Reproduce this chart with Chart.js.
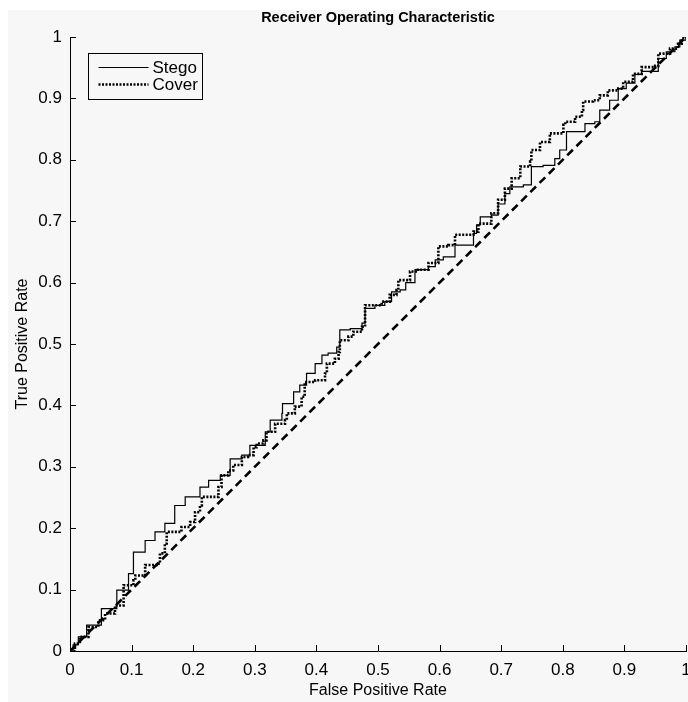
<!DOCTYPE html>
<html>
<head>
<meta charset="utf-8">
<title>Receiver Operating Characteristic</title>
<script src="https://cdn.jsdelivr.net/npm/chart.js@4.4.0/dist/chart.umd.min.js"></script>
<style>
  body { margin: 0; background: #ffffff; }
  canvas { display: block; }
</style>
</head>
<body>
<canvas id="rocChart" width="688" height="702"></canvas>
<script>
// ROC 곡선 데이터
const stegoFpr = [0, 0.005, 0.0135, 0.027, 0.051, 0.076, 0.095, 0.103, 0.122, 0.138, 0.154, 0.170, 0.187, 0.211, 0.225, 0.244, 0.260, 0.279, 0.292, 0.317, 0.325, 0.344, 0.345, 0.363, 0.373, 0.384, 0.398, 0.409, 0.419, 0.433, 0.438, 0.455, 0.474, 0.479, 0.495, 0.511, 0.522, 0.536, 0.545, 0.560, 0.582, 0.593, 0.606, 0.625, 0.655, 0.660, 0.666, 0.684, 0.695, 0.706, 0.714, 0.736, 0.749, 0.768, 0.787, 0.795, 0.806, 0.806, 0.836, 0.852, 0.860, 0.876, 0.890, 0.903, 0.917, 0.928, 0.955, 0.968, 0.982, 0.990, 1];
const stegoTpr = [0, 0.010, 0.023, 0.042, 0.069, 0.099, 0.126, 0.161, 0.180, 0.194, 0.208, 0.237, 0.251, 0.267, 0.278, 0.286, 0.313, 0.319, 0.335, 0.357, 0.376, 0.387, 0.403, 0.422, 0.433, 0.452, 0.468, 0.482, 0.485, 0.495, 0.523, 0.525, 0.534, 0.558, 0.563, 0.569, 0.585, 0.588, 0.600, 0.621, 0.626, 0.637, 0.642, 0.661, 0.680, 0.694, 0.707, 0.710, 0.728, 0.745, 0.756, 0.759, 0.789, 0.791, 0.802, 0.816, 0.821, 0.846, 0.859, 0.862, 0.881, 0.897, 0.916, 0.925, 0.939, 0.944, 0.965, 0.976, 0.984, 0.995, 1];

const coverFpr = [0, 0.008, 0.016, 0.030, 0.046, 0.057, 0.073, 0.087, 0.087, 0.103, 0.106, 0.122, 0.141, 0.146, 0.154, 0.157, 0.181, 0.195, 0.203, 0.211, 0.214, 0.230, 0.241, 0.246, 0.257, 0.265, 0.279, 0.289, 0.298, 0.303, 0.314, 0.319, 0.333, 0.349, 0.352, 0.365, 0.376, 0.381, 0.398, 0.414, 0.417, 0.430, 0.436, 0.438, 0.452, 0.460, 0.474, 0.479, 0.492, 0.506, 0.519, 0.530, 0.533, 0.549, 0.552, 0.565, 0.582, 0.598, 0.614, 0.625, 0.655, 0.663, 0.684, 0.695, 0.706, 0.717, 0.731, 0.747, 0.749, 0.763, 0.779, 0.801, 0.804, 0.820, 0.831, 0.833, 0.849, 0.860, 0.873, 0.890, 0.898, 0.914, 0.928, 0.950, 0.955, 0.974, 0.987, 0.993, 1];
const coverTpr = [0, 0.012, 0.023, 0.039, 0.050, 0.061, 0.074, 0.088, 0.107, 0.115, 0.123, 0.140, 0.142, 0.159, 0.175, 0.194, 0.202, 0.210, 0.226, 0.237, 0.251, 0.251, 0.267, 0.286, 0.294, 0.303, 0.316, 0.319, 0.332, 0.338, 0.343, 0.357, 0.370, 0.376, 0.387, 0.398, 0.414, 0.438, 0.441, 0.452, 0.468, 0.476, 0.487, 0.506, 0.512, 0.520, 0.528, 0.563, 0.563, 0.569, 0.580, 0.588, 0.604, 0.604, 0.618, 0.621, 0.632, 0.659, 0.661, 0.678, 0.683, 0.696, 0.713, 0.735, 0.753, 0.770, 0.789, 0.797, 0.816, 0.829, 0.843, 0.857, 0.862, 0.870, 0.881, 0.895, 0.897, 0.905, 0.913, 0.916, 0.927, 0.940, 0.951, 0.953, 0.973, 0.981, 0.989, 0.998, 1];

const chanceLine = [0, 1];
const tickValues = [0, 0.1, 0.2, 0.3, 0.4, 0.5, 0.6, 0.7, 0.8, 0.9, 1];

const titleText = 'Receiver Operating Characteristic';
const xLabel = 'False Positive Rate';
const yLabel = 'True Positive Rate';
const seriesNames = ['Stego', 'Cover'];

const FONT = '"Liberation Sans", Arial, Helvetica, sans-serif';
const BG = '#f7f7f7';

function toPoints(xs, ys) {
    return xs.map((x, i) => ({ x: x, y: ys[i] }));
}

function tickLabel(v) {
    if (v === 0) return '0';
    if (v === 1) return '1';
    return v.toFixed(1);
}

// 배경, 안쪽 눈금, 제목, 범례
const figurePlugin = {
    id: 'figure',
    beforeDraw(chart) {
        const ctx = chart.ctx;
        ctx.save();
        ctx.fillStyle = '#ffffff';
        ctx.fillRect(0, 0, chart.width, chart.height);
        ctx.fillStyle = BG;
        ctx.fillRect(8, 10, chart.width - 8, chart.height - 10);
        ctx.restore();
    },
    afterDraw(chart) {
        const { ctx, chartArea, scales } = chart;
        ctx.save();
        ctx.strokeStyle = '#000';
        ctx.lineWidth = 1;
        // 안쪽으로 향하는 눈금
        scales.x.ticks.forEach((t, i) => {
            const px = Math.round(scales.x.getPixelForTick(i)) + 0.5;
            ctx.beginPath();
            ctx.moveTo(px, chartArea.bottom);
            ctx.lineTo(px, chartArea.bottom - 6);
            ctx.stroke();
        });
        scales.y.ticks.forEach((t, i) => {
            const py = Math.round(scales.y.getPixelForTick(i)) + 0.5;
            ctx.beginPath();
            ctx.moveTo(chartArea.left, py);
            ctx.lineTo(chartArea.left + 6, py);
            ctx.stroke();
        });

        // 제목
        ctx.fillStyle = '#000';
        ctx.font = 'bold 14.5px ' + FONT;
        ctx.textAlign = 'center';
        ctx.textBaseline = 'middle';
        ctx.fillText(titleText, (chartArea.left + chartArea.right) / 2, 18);

        // 범례
        const bx = chartArea.left + 18.5, by = chartArea.top + 16.5;
        const bw = 114, bh = 46;
        ctx.fillStyle = BG;
        ctx.fillRect(bx, by, bw, bh);
        ctx.strokeRect(bx, by, bw, bh);
        const rows = [by + 14, by + 31];
        chart.data.datasets.slice(0, 2).forEach((ds, i) => {
            ctx.beginPath();
            ctx.lineWidth = ds.borderWidth;
            ctx.setLineDash(ds.borderDash || []);
            ctx.moveTo(bx + 10, rows[i]);
            ctx.lineTo(bx + 60, rows[i]);
            ctx.stroke();
            ctx.setLineDash([]);
            ctx.fillStyle = '#000';
            ctx.font = '17px ' + FONT;
            ctx.textAlign = 'left';
            ctx.fillText(ds.label, bx + 64, rows[i] + 1);
        });
        ctx.restore();
    }
};

const ctx = document.getElementById('rocChart').getContext('2d');
new Chart(ctx, {
    type: 'line',
    data: {
        datasets: [
            {
                label: seriesNames[0],
                data: toPoints(stegoFpr, stegoTpr),
                borderColor: '#000',
                borderWidth: 1.2,
                stepped: 'before',
                pointRadius: 0,
                fill: false
            },
            {
                label: seriesNames[1],
                data: toPoints(coverFpr, coverTpr),
                borderColor: '#000',
                borderWidth: 2.6,
                borderDash: [2, 1.5],
                stepped: 'before',
                pointRadius: 0,
                fill: false
            },
            {
                label: 'chance',
                data: toPoints(chanceLine, chanceLine),
                borderColor: '#000',
                borderWidth: 2.6,
                borderDash: [8, 5],
                pointRadius: 0,
                fill: false
            }
        ]
    },
    options: {
        responsive: false,
        animation: false,
        layout: { padding: { top: 37, right: 2, left: 0, bottom: 0 } },
        plugins: {
            legend: { display: false },
            tooltip: { enabled: false },
            title: { display: false }
        },
        scales: {
            x: {
                type: 'linear',
                min: 0,
                max: 1,
                afterBuildTicks: scale => { scale.ticks = tickValues.map(v => ({ value: v })); },
                afterFit: scale => { scale.height = 51; scale.paddingRight = 0; scale.paddingLeft = 0; },
                grid: { drawOnChartArea: false, drawTicks: false },
                border: { display: true, color: '#000', width: 1 },
                ticks: {
                    color: '#000',
                    font: { family: FONT, size: 17 },
                    padding: 9,
                    maxRotation: 0,
                    callback: v => tickLabel(v)
                },
                title: {
                    display: true,
                    text: xLabel,
                    color: '#000',
                    font: { family: FONT, size: 16 },
                    padding: { top: 0, bottom: 2 }
                }
            },
            y: {
                type: 'linear',
                min: 0,
                max: 1,
                afterBuildTicks: scale => { scale.ticks = tickValues.map(v => ({ value: v })); },
                afterFit: scale => { scale.width = 70; scale.paddingTop = 0; scale.paddingBottom = 0; },
                grid: { drawOnChartArea: false, drawTicks: false },
                border: { display: true, color: '#000', width: 1 },
                ticks: {
                    color: '#000',
                    font: { family: FONT, size: 17 },
                    padding: 8,
                    callback: v => tickLabel(v)
                },
                title: {
                    display: true,
                    text: yLabel,
                    color: '#000',
                    font: { family: FONT, size: 16 },
                    padding: { top: 13, bottom: 0 }
                }
            }
        }
    },
    plugins: [figurePlugin]
});
</script>
</body>
</html>
